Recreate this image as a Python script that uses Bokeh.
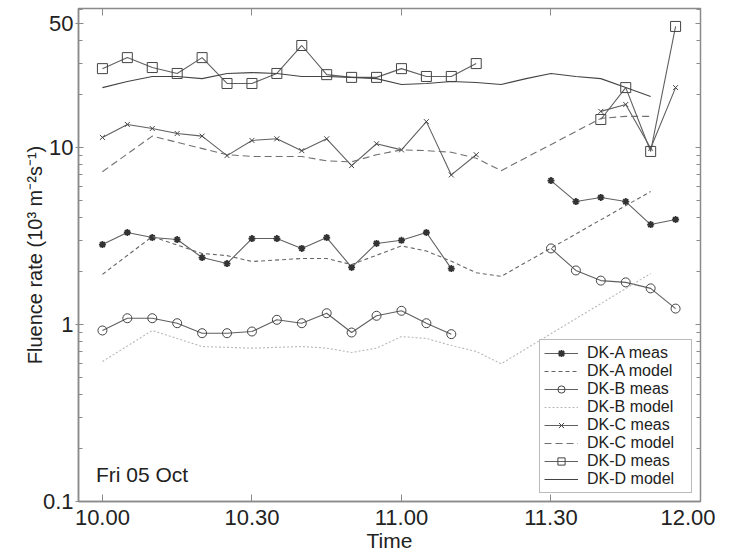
import numpy as np
from bokeh.plotting import figure
from bokeh.models import (ColumnDataSource, Range1d, FixedTicker, LinearAxis, LogAxis,
                          Label, Legend)
from bokeh.embed import file_html
from bokeh.resources import INLINE

nan = np.nan

# time in minutes after 10:00
times = [0, 5, 10, 15, 20, 25, 30, 35, 40, 45, 50, 55, 60, 65, 70, 75, 80, 85, 90, 95, 100, 105, 110, 115]

dka_meas = [2.83, 3.31, 3.10, 3.02, 2.39, 2.21, 3.06, 3.06, 2.69, 3.10, 2.10, 2.87, 2.99, 3.31, 2.07,
            nan, nan, nan, 6.5, 4.95, 5.22, 4.95, 3.67, 3.92]
dkb_meas = [0.925, 1.085, 1.085, 1.017, 0.893, 0.893, 0.913, 1.063, 1.017, 1.158, 0.901, 1.12, 1.195,
            1.017, 0.882, nan, nan, nan, 2.69, 2.02, 1.77, 1.73, 1.60, 1.23]
dkc_meas = [11.4, 13.5, 12.8, 12.0, 11.6, 9.0, 10.96, 11.2, 9.6, 11.2, 7.9, 10.5, 9.7, 14.0, 7.0, 9.1,
            nan, nan, nan, nan, 16.0, 17.5, 9.9, 21.8]
dkd_meas = [27.9, 32.2, 28.3, 26.2, 32.2, 23.0, 23.0, 26.2, 37.7, 25.8, 24.9, 24.9, 27.9, 25.2, 25.2, 29.8,
            nan, nan, nan, nan, 14.4, 21.8, 9.5, 48.3]

dka_model_t = [0, 10, 20, 25, 30, 40, 45, 50, 60, 65, 70, 75, 80, 110]
dka_model = [1.92, 3.14, 2.52, 2.45, 2.27, 2.36, 2.36, 2.18, 2.78, 2.60, 2.28, 1.96, 1.87, 5.64]
dkb_model_t = [0, 10, 20, 30, 40, 45, 50, 55, 60, 65, 70, 75, 80, 110]
dkb_model = [0.618, 0.925, 0.751, 0.735, 0.751, 0.735, 0.695, 0.735, 0.855, 0.834, 0.761, 0.704, 0.60, 1.94]
dkc_model_t = [0, 10, 25, 30, 40, 45, 50, 55, 60, 65, 70, 75, 80, 100, 105, 110]
dkc_model = [7.3, 11.6, 9.1, 8.9, 8.9, 8.4, 8.3, 9.1, 9.7, 9.6, 9.4, 8.7, 7.4, 14.6, 15.0, 15.0]
dkd_model_t = [0, 5, 10, 15, 20, 25, 30, 35, 40, 45, 50, 55, 60, 65, 70, 75, 80, 85, 90, 95, 100, 105, 110]
dkd_model = [21.8, 23.6, 25.2, 25.2, 24.5, 26.2, 26.5, 26.2, 25.2, 25.2, 24.9, 24.5, 22.7, 23.0, 23.6,
             23.3, 22.7, 24.5, 26.2, 25.2, 24.5, 21.8, 19.4]

x_ticks = [0, 30, 60, 90, 120]
x_tick_labels = ["10.00", "10.30", "11.00", "11.30", "12.00"]
y_ticks = [0.1, 1, 10, 50]
y_tick_labels = ["0.1", "1", "10", "50"]
y_minor = [m * d for d in (0.1, 1, 10) for m in range(2, 10)]

FONT = "Liberation Sans"
TXT = "#222222"
FRAME = "#8a8a8a"

p = figure(frame_width=622, frame_height=493, y_axis_type="log",
           x_range=Range1d(-4.8, 120), y_range=Range1d(0.1, 61),
           output_backend="svg", toolbar_location=None,
           min_border_left=78, min_border_bottom=52, min_border_top=8, min_border_right=15)
p.xgrid.visible = False
p.ygrid.visible = False
p.outline_line_color = FRAME
p.outline_line_width = 1.5
p.background_fill_color = "white"

xt = FixedTicker(ticks=x_ticks, minor_ticks=[])
yt = FixedTicker(ticks=y_ticks, minor_ticks=y_minor)

xa = p.xaxis[0]
xa.ticker = xt
xa.major_label_overrides = dict(zip(x_ticks, x_tick_labels))
xa.axis_label = "Time"
ya = p.yaxis[0]
ya.ticker = yt
ya.major_label_overrides = dict(zip(y_ticks, y_tick_labels))
ya.axis_label = "Fluence rate (10³ m⁻²s⁻¹)"

for ax in (xa, ya):
    ax.axis_line_color = FRAME
    ax.axis_line_width = 1.5
    ax.major_tick_line_color = FRAME
    ax.minor_tick_line_color = FRAME
    ax.major_label_text_font = FONT
    ax.major_label_text_font_size = "22px"
    ax.major_label_text_color = TXT
    ax.axis_label_text_font = FONT
    ax.axis_label_text_font_style = "normal"
    ax.axis_label_text_color = TXT
xa.axis_label_text_font_size = "21px"
ya.axis_label_text_font_size = "20px"
xa.major_tick_in = 7
xa.major_tick_out = 0
xa.major_label_standoff = 8
xa.axis_label_standoff = 1
ya.major_tick_in = 5
ya.major_tick_out = 3
ya.minor_tick_in = 4
ya.minor_tick_out = 0
ya.major_label_standoff = 2
ya.axis_label_standoff = -6

top = LinearAxis(ticker=xt, major_label_text_alpha=0, major_label_text_font_size="1px",
                 major_tick_in=7, major_tick_out=0,
                 minor_tick_in=0, minor_tick_out=0, major_label_standoff=0,
                 axis_line_color=FRAME, major_tick_line_color=FRAME)
right = LogAxis(ticker=yt, major_label_text_alpha=0, major_label_text_font_size="1px",
                major_tick_in=5, major_tick_out=0,
                minor_tick_in=4, minor_tick_out=0, major_label_standoff=0,
                axis_line_color=FRAME, major_tick_line_color=FRAME, minor_tick_line_color=FRAME)
p.add_layout(top, "above")
p.add_layout(right, "right")

meas_color = "#606060"

def meas(vals, marker, size, lw=1.0):
    src = ColumnDataSource(dict(t=times, v=vals))
    r1 = p.line("t", "v", source=src, line_color=meas_color, line_width=1.1)
    if marker == "asterisk":
        r2 = p.scatter("t", "v", source=src, marker=marker, size=size, line_color="#333333",
                       line_width=lw)
    else:
        r2 = p.scatter("t", "v", source=src, marker=marker, size=size, line_color="#444444",
                       fill_alpha=0, line_width=lw)
    return [r1, r2]

def model(t, vals, color, dash, lw=1.1):
    src = ColumnDataSource(dict(t=t, v=vals))
    return [p.line("t", "v", source=src, line_color=color, line_dash=dash, line_width=lw)]

items = [
    ("DK-A meas", meas(dka_meas, "asterisk", 7, 1.8)),
    ("DK-A model", model(dka_model_t, dka_model, "#666666", "4 3")),
    ("DK-B meas", meas(dkb_meas, "circle", 9)),
    ("DK-B model", model(dkb_model_t, dkb_model, "#b8b8b8", "2 2")),
    ("DK-C meas", meas(dkc_meas, "x", 7)),
    ("DK-C model", model(dkc_model_t, dkc_model, "#707070", "7 4")),
    ("DK-D meas", meas(dkd_meas, "square", 10)),
    ("DK-D model", model(dkd_model_t, dkd_model, "#444444", "solid")),
]

legend = Legend(items=items, location="bottom_right",
                label_text_font=FONT, label_text_font_size="16px", label_text_color=TXT,
                glyph_width=34, glyph_height=18, label_height=18, label_width=100,
                spacing=0, padding=4, margin=8, border_line_color="#777777", border_line_width=1,
                label_standoff=9, background_fill_alpha=1)
p.add_layout(legend)

p.add_layout(Label(x=-1.3, y=0.142, text="Fri 05 Oct", text_font=FONT, text_font_size="21px",
                   text_color=TXT, text_baseline="alphabetic"))

open("out.html", "w").write(file_html(p, INLINE))
